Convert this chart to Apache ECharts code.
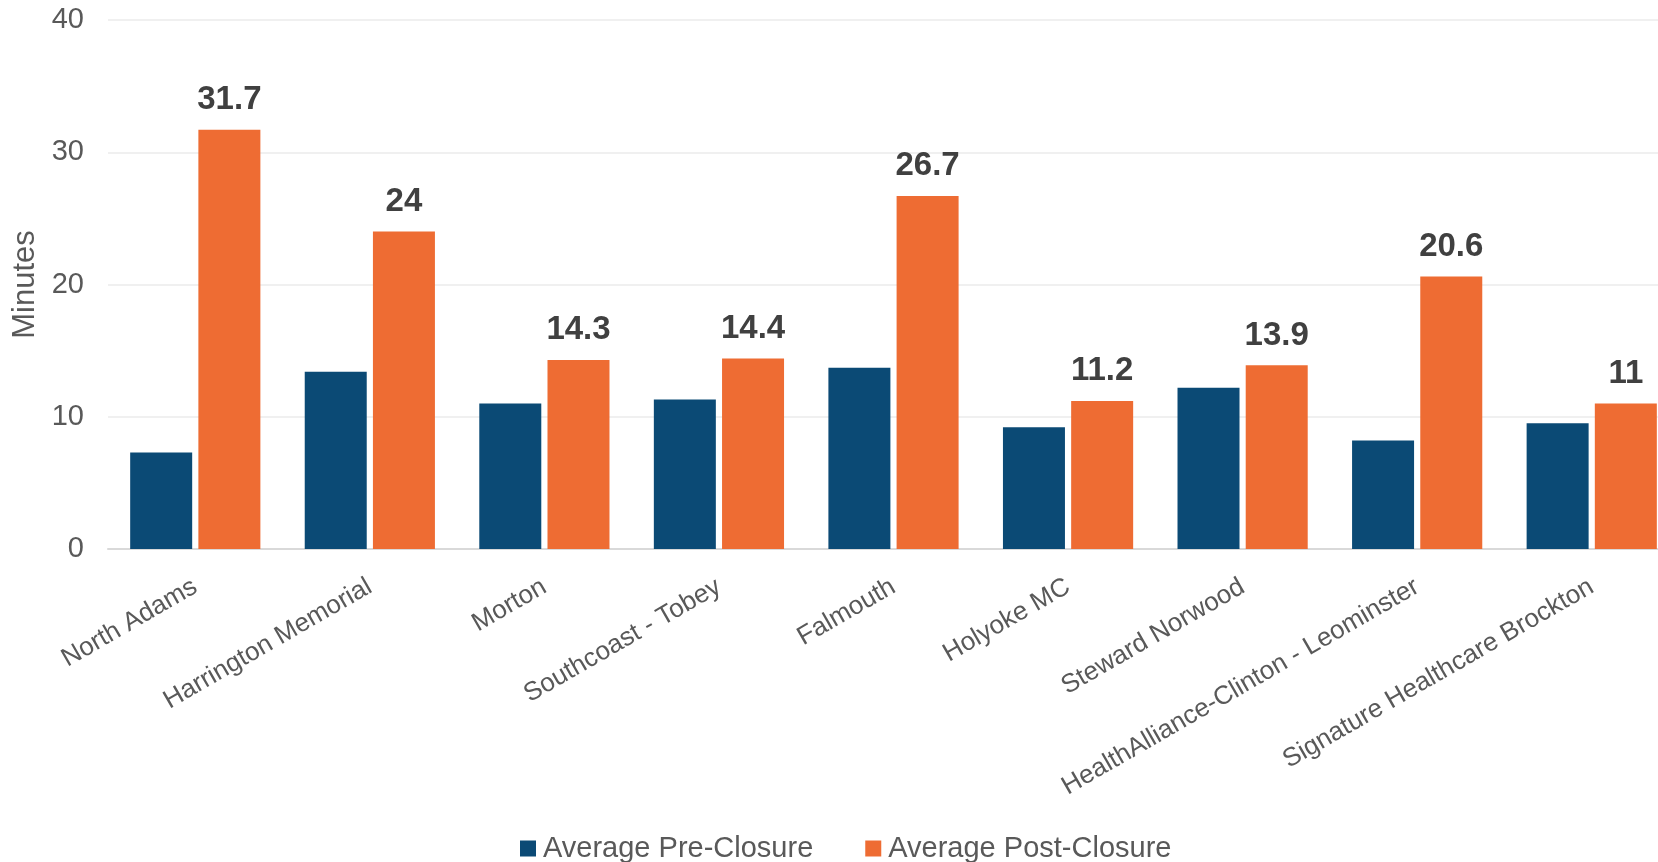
<!DOCTYPE html>
<html><head><meta charset="utf-8">
<script src="https://cdn.jsdelivr.net/npm/echarts@6/dist/echarts.min.js"></script>
<style>html,body{margin:0;padding:0;background:#fff}#c{width:1658px;height:862px}</style>
</head><body><div id="c"></div>
<script>
const categories = ["North Adams","Harrington Memorial","Morton","Southcoast - Tobey","Falmouth","Holyoke MC","Steward Norwood","HealthAlliance-Clinton - Leominster","Signature Healthcare Brockton"];
const preClosure = [7.3, 13.4, 11.0, 11.3, 13.7, 9.2, 12.2, 8.2, 9.5];
const postClosure = [31.7, 24, 14.3, 14.4, 26.7, 11.2, 13.9, 20.6, 11];
const seriesNames = ["Average Pre-Closure","Average Post-Closure"];
const yTicks = {min:0, max:40, interval:10};

const FONT = "'Liberation Sans', Arial, sans-serif";
const chart = echarts.init(document.getElementById('c'));
chart.setOption({
  animation:false,
  backgroundColor:'#ffffff',
  grid:{left:108, width:1571, top:20, bottom:313, outerBoundsMode:'none', containLabel:false},
  legend:{
    data:seriesNames, top:829, left:515, itemWidth:16, itemHeight:16, itemGap:52, icon:'rect',
    textStyle:{fontFamily:FONT, fontSize:29, color:'#595959', padding:[0,0,0,2]}
  },
  xAxis:{
    type:'category', data:categories,
    axisTick:{show:false},
    axisLine:{lineStyle:{color:'#D9D9D9', width:2}},
    axisLabel:{rotate:30, interval:0, margin:36, color:'#595959', fontFamily:FONT, fontSize:26}
  },
  yAxis:{
    type:'value', min:yTicks.min, max:yTicks.max, interval:yTicks.interval,
    name:'Minutes', nameLocation:'middle', nameGap:63, nameRotate:90,
    nameTextStyle:{fontFamily:FONT, fontSize:31, color:'#595959'},
    axisLine:{show:false}, axisTick:{show:false},
    axisLabel:{color:'#595959', fontFamily:FONT, fontSize:29, margin:24},
    splitLine:{lineStyle:{color:'#F0F0F0', width:2}}
  },
  series:[
    {name:seriesNames[0], type:'bar', data:preClosure, barWidth:62, barGap:'10%', itemStyle:{color:'#0B4A75'}},
    {name:seriesNames[1], type:'bar', data:postClosure, barWidth:62, itemStyle:{color:'#EE6C33'},
     label:{show:true, position:'top', distance:13, color:'#404040', fontFamily:FONT, fontWeight:'bold', fontSize:33}}
  ]
});
</script></body></html>
